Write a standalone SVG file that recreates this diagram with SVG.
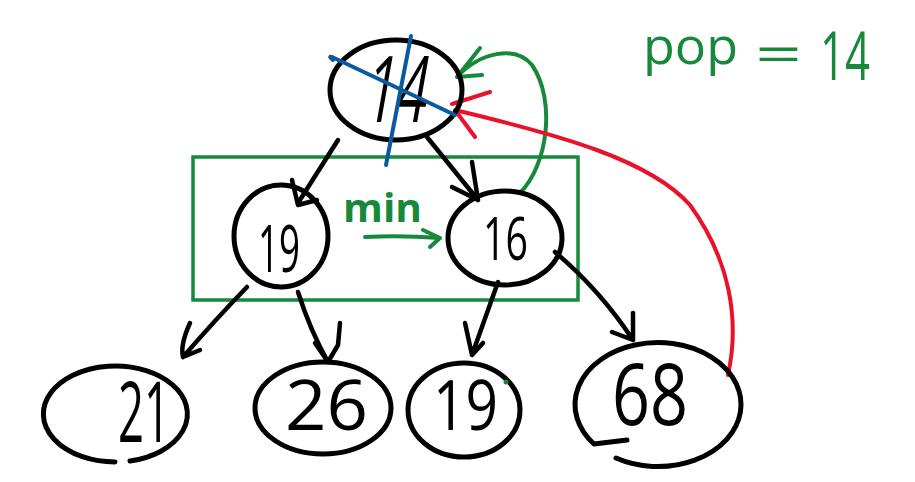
<svg xmlns="http://www.w3.org/2000/svg" width="915" height="482" viewBox="0 0 915 482">
<style>
.node{fill:none;stroke:#000;stroke-width:5;stroke-linecap:round;stroke-linejoin:round}
.lbl{font-family:"Open Sans","Liberation Sans",Arial,sans-serif;font-weight:400;fill:#000}
.blk{fill:none;stroke:#000;stroke-width:4.5;stroke-linecap:round;stroke-linejoin:round}
.grn{fill:none;stroke:#17893a;stroke-width:4;stroke-linecap:round;stroke-linejoin:round}
.red{fill:none;stroke:#e8132a;stroke-width:4;stroke-linecap:round;stroke-linejoin:round}
.blu{fill:none;stroke:#0b5a9e;stroke-width:4;stroke-linecap:round;stroke-linejoin:round}
.gtxt{font-family:"Open Sans","Liberation Sans",Arial,sans-serif;fill:#17893a}
</style>
<rect width="915" height="482" fill="#fff"/>
<rect id="minbox" x="193" y="157" width="385" height="143" fill="none" stroke="#17893a" stroke-width="3.5"/>
<g id="connectors">
  <path class="blk" d="M338,140 L298,203 M292,180 L298,205 L317,200"/>
  <path class="blk" d="M427,137 L478,200 M472,162 L478,200 L452,187"/>
  <path class="blk" d="M247,287 Q215,320 183,357 M190,323 Q180,345 183,357 L200,350"/>
  <path class="blk" d="M298,292 Q310,330 328,362 M340,323 L338,345 L328,362 M315,343 L328,362"/>
  <path class="blk" d="M498,282 L472,355 M465,323 L472,355 L483,343"/>
  <path class="blk" d="M555,252 Q600,290 633,340 M633,313 L633,340 L612,332"/>
  <path class="grn" d="M365,237 Q400,235 440,238 M423,230 L440,238 L430,247"/>
  <path class="grn" d="M520,193 C548,165 556,100 532,65 C515,45 480,52 457,77 M480,48 L457,77 L482,75"/>
  <path class="red" d="M728,375 C740,320 730,260 690,205 C650,160 560,135 455,110 M490,92 L452,104 M455,110 L475,137"/>
</g>
<g id="n14">
  <ellipse class="node" cx="396" cy="90" rx="66" ry="50"/>
  <text class="lbl" transform="translate(362 122) skewX(-10)" font-size="92" textLength="62" lengthAdjust="spacingAndGlyphs">14</text>
  <path class="blu" d="M333,60 Q328,56 332,57 L455,115 M411,36 L386,165"/>
</g>
<g id="n19a">
  <ellipse class="node" cx="281" cy="236" rx="47" ry="51"/>
  <text class="lbl" x="258" y="272" font-size="66" textLength="42" lengthAdjust="spacingAndGlyphs">19</text>
</g>
<g id="n16">
  <ellipse class="node" cx="505" cy="238" rx="57" ry="47"/>
  <text class="lbl" x="483" y="260" font-size="60" textLength="45" lengthAdjust="spacingAndGlyphs">16</text>
</g>
<g id="n21">
  <path class="node" d="M130,461 A72,48 0 1 0 115,462"/>
  <text class="lbl" x="118" y="442" font-size="84" textLength="52" lengthAdjust="spacingAndGlyphs">21</text>
</g>
<g id="n26">
  <ellipse class="node" cx="323" cy="408" rx="68" ry="46"/>
  <text class="lbl" x="285" y="430" font-size="70" textLength="83" lengthAdjust="spacingAndGlyphs">26</text>
</g>
<g id="n19b">
  <ellipse class="node" cx="464" cy="410" rx="56" ry="47"/>
  <text class="lbl" x="433" y="430" font-size="70" textLength="65" lengthAdjust="spacingAndGlyphs">19</text>
  <circle cx="506" cy="382" r="2.5" fill="#17893a"/>
</g>
<g id="n68">
  <path class="node" d="M616,458 A83,62 0 1 0 594,444 Q610,442 627,440"/>
  <text class="lbl" x="612" y="425" font-size="86" textLength="76" lengthAdjust="spacingAndGlyphs">68</text>
</g>
<text class="gtxt" x="343" y="222" font-size="40" font-weight="bold" textLength="79" lengthAdjust="spacingAndGlyphs">min</text>
<text class="gtxt" font-size="52"><tspan x="643" y="64" textLength="95" lengthAdjust="spacingAndGlyphs">pop</tspan> <tspan x="755" y="72" textLength="47" lengthAdjust="spacingAndGlyphs">=</tspan> <tspan x="820" y="80" font-size="68" textLength="50" lengthAdjust="spacingAndGlyphs">14</tspan></text>
</svg>
